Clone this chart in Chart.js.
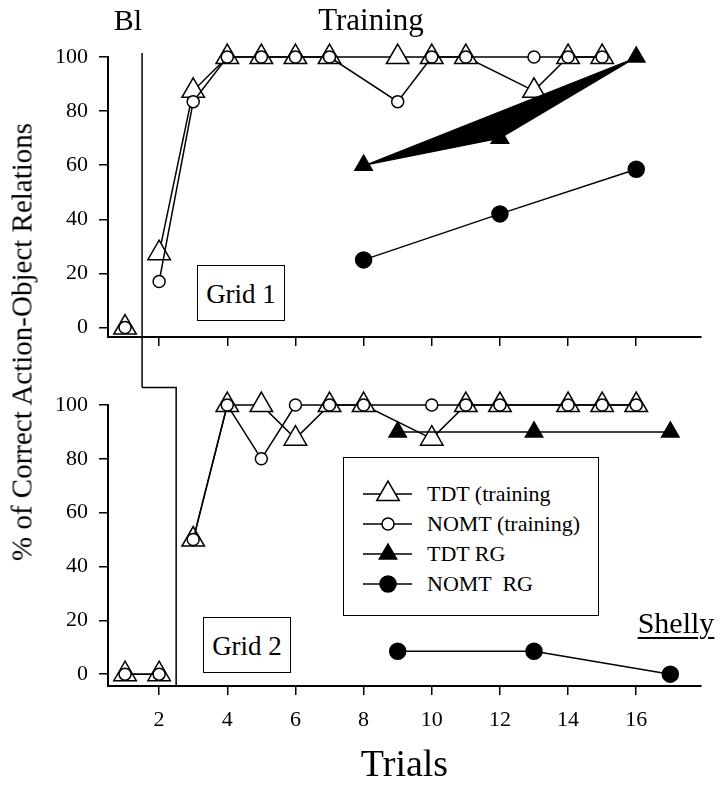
<!DOCTYPE html>
<html>
<head>
<meta charset="utf-8">
<script src="https://cdn.jsdelivr.net/npm/chart.js@4.4.1/dist/chart.umd.min.js"></script>
<style>
  html, body { margin:0; padding:0; background:#fff; }
  #wrap { position:relative; width:722px; height:789px; overflow:hidden; font-family:"Liberation Serif","Times New Roman",serif; color:#000; }
  canvas { position:absolute; left:0; top:0; }
  .t { position:absolute; line-height:1; white-space:pre; }
  .box { position:absolute; border:1.5px solid #000; box-sizing:border-box; background:#fff; }
</style>
</head>
<body>
<div id="wrap">
  <canvas id="c1" width="722" height="789"></canvas>
  <canvas id="c2" width="722" height="789"></canvas>
</div>
<script>
// ---------------- data ----------------
const trialTicks = [2, 4, 6, 8, 10, 12, 14, 16];
const percentTicks = [0, 20, 40, 60, 80, 100];
const seriesNames = ["TDT (training", "NOMT (training)", "TDT RG", "NOMT  RG"];
const panelNames = ["Grid 1", "Grid 2"];
const phaseNames = ["Bl", "Training"];
const participant = "Shelly";

// Grid 1 (top panel); phase change between trial 1 and 2
const grid1Phase = 1.5;
const grid1TdtTrials = [1, 2, 3, 4, 5, 6, 7, 9, 10, 11, 13, 14, 15];
const grid1TdtTraining = [0, 27.5, 87.5, 100, 100, 100, 100, 100, 100, 100, 87.5, 100, 100];
const grid1NomtTrials = [1, 2, 3, 4, 5, 6, 7, 9, 10, 11, 13, 14, 15];
const grid1NomtTraining = [0, 17, 83.5, 100, 100, 100, 100, 83.5, 100, 100, 100, 100, 100];
const grid1RgTrials = [8, 12, 16];
const grid1TdtRG = [60, 70, 100];
const grid1NomtRG = [25, 42, 58.5];

// Grid 2 (bottom panel); phase change between trial 2 and 3
const grid2Phase = 2.5;
const grid2TdtTrials = [1, 2, 3, 4, 5, 6, 7, 8, 10, 11, 12, 14, 15, 16];
const grid2TdtTraining = [0, 0, 50, 100, 100, 87.5, 100, 100, 87.5, 100, 100, 100, 100, 100];
const grid2NomtTrials = [1, 2, 3, 4, 5, 6, 7, 8, 10, 11, 12, 14, 15, 16];
const grid2NomtTraining = [0, 0, 50, 100, 80, 100, 100, 100, 100, 100, 100, 100, 100, 100];
const grid2RgTrials = [9, 13, 17];
const grid2TdtRG = [90, 90, 90];
const grid2NomtRG = [8.5, 8.5, 0];

// ---------------- helpers ----------------
const SERIF = '"Liberation Serif","Times New Roman",serif';
function pts(trials, values, phase) {
  const out = [];
  trials.forEach((t, i) => {
    if (i > 0 && trials[i - 1] < phase && t > phase) out.push({ x: phase, y: null });
    out.push({ x: t, y: values[i] });
  });
  return out;
}
const styles = {
  tdt:  { pointStyle: 'triangle', pointRadius: 13, pointBackgroundColor: '#fff', order: 3 },
  nomt: { pointStyle: 'circle', pointRadius: 6, pointBackgroundColor: '#fff', order: 0 },
  tdtRG:  { pointStyle: 'triangle', pointRadius: 10, pointBackgroundColor: '#000', order: 2 },
  nomtRG: { pointStyle: 'circle', pointRadius: 8, pointBackgroundColor: '#000', order: 1 }
};
function ds(label, data, st, extra) {
  return Object.assign({
    label, data,
    borderColor: '#000', borderWidth: 1.5,
    pointBorderColor: '#000', pointBorderWidth: 1.5,
    pointHoverRadius: st.pointRadius,
    tension: 0, spanGaps: false, clip: false, fill: false
  }, st, extra || {});
}
function xScale(showLabels, height) {
  return {
    type: 'linear', min: 0.5, max: 17.9,
    afterBuildTicks: s => { s.ticks = trialTicks.map(v => ({ value: v })); },
    afterFit: s => { s.height = height; },
    grid: { drawOnChartArea: false, drawTicks: true, tickLength: 9, color: '#000', lineWidth: 1.5 },
    border: { display: true, color: '#000', width: 2 },
    ticks: { display: showLabels, color: '#000', font: { family: SERIF, size: 22 }, padding: 12, maxRotation: 0 },
    title: showLabels ? { display: true, text: 'Trials', color: '#000', font: { family: SERIF, size: 38, lineHeight: 1 }, padding: { top: 0, bottom: 4 } } : { display: false }
  };
}
function yScale(min) {
  return {
    type: 'linear', min: min, max: 100,
    afterBuildTicks: s => { s.ticks = percentTicks.map(v => ({ value: v })); },
    afterFit: s => { s.width = 108; },
    grid: { drawOnChartArea: false, drawTicks: true, tickLength: 9, color: '#000', lineWidth: 1.5 },
    border: { display: true, color: '#000', width: 2 },
    ticks: { color: '#000', font: { family: SERIF, size: 22 }, padding: 11 }
  };
}
function phaseLine(drawFn) {
  return { id: 'phase', beforeDatasetsDraw(chart) {
    const ctx = chart.ctx; ctx.save();
    ctx.strokeStyle = '#000'; ctx.lineWidth = 1.5; ctx.beginPath();
    drawFn(chart, ctx); ctx.stroke(); ctx.restore();
  } };
}
const common = {
  responsive: false, animation: false, events: [],
  plugins: { legend: { display: false }, tooltip: { enabled: false } }
};

// ---------------- top chart (Grid 1) ----------------
new Chart(document.getElementById('c1'), {
  type: 'line',
  data: { datasets: [
    ds(seriesNames[0], pts(grid1TdtTrials, grid1TdtTraining, grid1Phase), styles.tdt),
    ds(seriesNames[1], pts(grid1NomtTrials, grid1NomtTraining, grid1Phase), styles.nomt),
    ds(seriesNames[2], pts(grid1RgTrials, grid1TdtRG, grid1Phase), styles.tdtRG, { fill: 'shape', backgroundColor: '#000' }),
    ds(seriesNames[3], pts(grid1RgTrials, grid1NomtRG, grid1Phase), styles.nomtRG)
  ] },
  options: Object.assign({}, common, {
    layout: { padding: { top: 57, left: 0, right: 21, bottom: 789 - 337 - 30 } },
    scales: { x: xScale(false, 30), y: yScale(-3.5) }
  }),
  plugins: [phaseLine((chart, ctx) => {
    const x = chart.scales.x.getPixelForValue(grid1Phase);
    ctx.moveTo(x, chart.scales.y.getPixelForValue(101.5));
    ctx.lineTo(x, chart.scales.y.getPixelForValue(-22.2));
  })]
});

// ---------------- bottom chart (Grid 2) ----------------
new Chart(document.getElementById('c2'), {
  type: 'line',
  data: { datasets: [
    ds(seriesNames[0], pts(grid2TdtTrials, grid2TdtTraining, grid2Phase), styles.tdt),
    ds(seriesNames[1], pts(grid2NomtTrials, grid2NomtTraining, grid2Phase), styles.nomt),
    ds(seriesNames[2], pts(grid2RgTrials, grid2TdtRG, grid2Phase), styles.tdtRG),
    ds(seriesNames[3], pts(grid2RgTrials, grid2NomtRG, grid2Phase), styles.nomtRG)
  ] },
  options: Object.assign({}, common, {
    layout: { padding: { top: 405, left: 0, right: 21, bottom: 0 } },
    scales: { x: xScale(true, 789 - 686), y: yScale(-4.4) }
  }),
  plugins: [phaseLine((chart, ctx) => {
    const xs = chart.scales.x, ys = chart.scales.y;
    const yc = ys.getPixelForValue(106.5);
    ctx.moveTo(xs.getPixelForValue(grid1Phase), yc);
    ctx.lineTo(xs.getPixelForValue(grid2Phase), yc);
    ctx.lineTo(xs.getPixelForValue(grid2Phase), chart.chartArea.bottom);
  })]
});

// ---------------- annotations (HTML text) ----------------
const wrap = document.getElementById('wrap');
function text(str, cx, baseline, size, align, extraStyle) {
  const d = document.createElement('div');
  d.className = 't';
  d.textContent = str;
  d.style.fontSize = size + 'px';
  d.style.top = (baseline - 0.8375 * size) + 'px';
  if (align === 'center') { d.style.left = cx + 'px'; d.style.transform = 'translateX(-50%)'; }
  else d.style.left = cx + 'px';
  if (extraStyle) Object.assign(d.style, extraStyle);
  wrap.appendChild(d);
  return d;
}
function box(l, t, w, h) {
  const b = document.createElement('div');
  b.className = 'box';
  Object.assign(b.style, { left: l + 'px', top: t + 'px', width: w + 'px', height: h + 'px' });
  wrap.appendChild(b);
}
text(phaseNames[0], 128, 30, 30, 'center');
text(phaseNames[1], 371, 30, 31, 'center');
box(197, 265, 88, 56); text(panelNames[0], 241, 304, 27, 'center');
box(203, 617, 88, 56); text(panelNames[1], 247, 656, 27, 'center');
text(participant, 676, 633, 30, 'center', { textDecoration: 'underline', textDecorationThickness: '1.5px', textUnderlineOffset: '4px' });

// y-axis title
const yt = document.createElement('div');
yt.className = 't';
yt.textContent = '% of Correct Action-Object Relations';
Object.assign(yt.style, { fontSize: '29px', left: '22px', top: '342px', transform: 'translate(-50%,-50%) rotate(-90deg)' });
wrap.appendChild(yt);

// legend
box(343, 457, 256, 159);
const rows = [494, 524, 554, 584];
const svgNS = 'http://www.w3.org/2000/svg';
const svg = document.createElementNS(svgNS, 'svg');
svg.setAttribute('width', 722); svg.setAttribute('height', 789);
svg.style.position = 'absolute'; svg.style.left = '0'; svg.style.top = '0';
const kinds = [styles.tdt, styles.nomt, styles.tdtRG, styles.nomtRG];
rows.forEach((y, i) => {
  const ln = document.createElementNS(svgNS, 'line');
  Object.entries({ x1: 363, x2: 412, y1: y, y2: y, stroke: '#000', 'stroke-width': 1.5 }).forEach(([k, v]) => ln.setAttribute(k, v));
  svg.appendChild(ln);
  const st = kinds[i];
  let m;
  if (st.pointStyle === 'triangle') {
    const r = st.pointRadius, cx = 388;
    m = document.createElementNS(svgNS, 'polygon');
    const p = [[cx, y - r], [cx + r * Math.sqrt(3) / 2, y + r / 2], [cx - r * Math.sqrt(3) / 2, y + r / 2]];
    m.setAttribute('points', p.map(q => q.join(',')).join(' '));
  } else {
    m = document.createElementNS(svgNS, 'circle');
    m.setAttribute('cx', 388); m.setAttribute('cy', y); m.setAttribute('r', st.pointRadius);
  }
  m.setAttribute('fill', st.pointBackgroundColor); m.setAttribute('stroke', '#000'); m.setAttribute('stroke-width', 1.5);
  svg.appendChild(m);
  text(seriesNames[i], 427, y + 7.5, 22, 'left');
});
wrap.appendChild(svg);
</script>
</body>
</html>
